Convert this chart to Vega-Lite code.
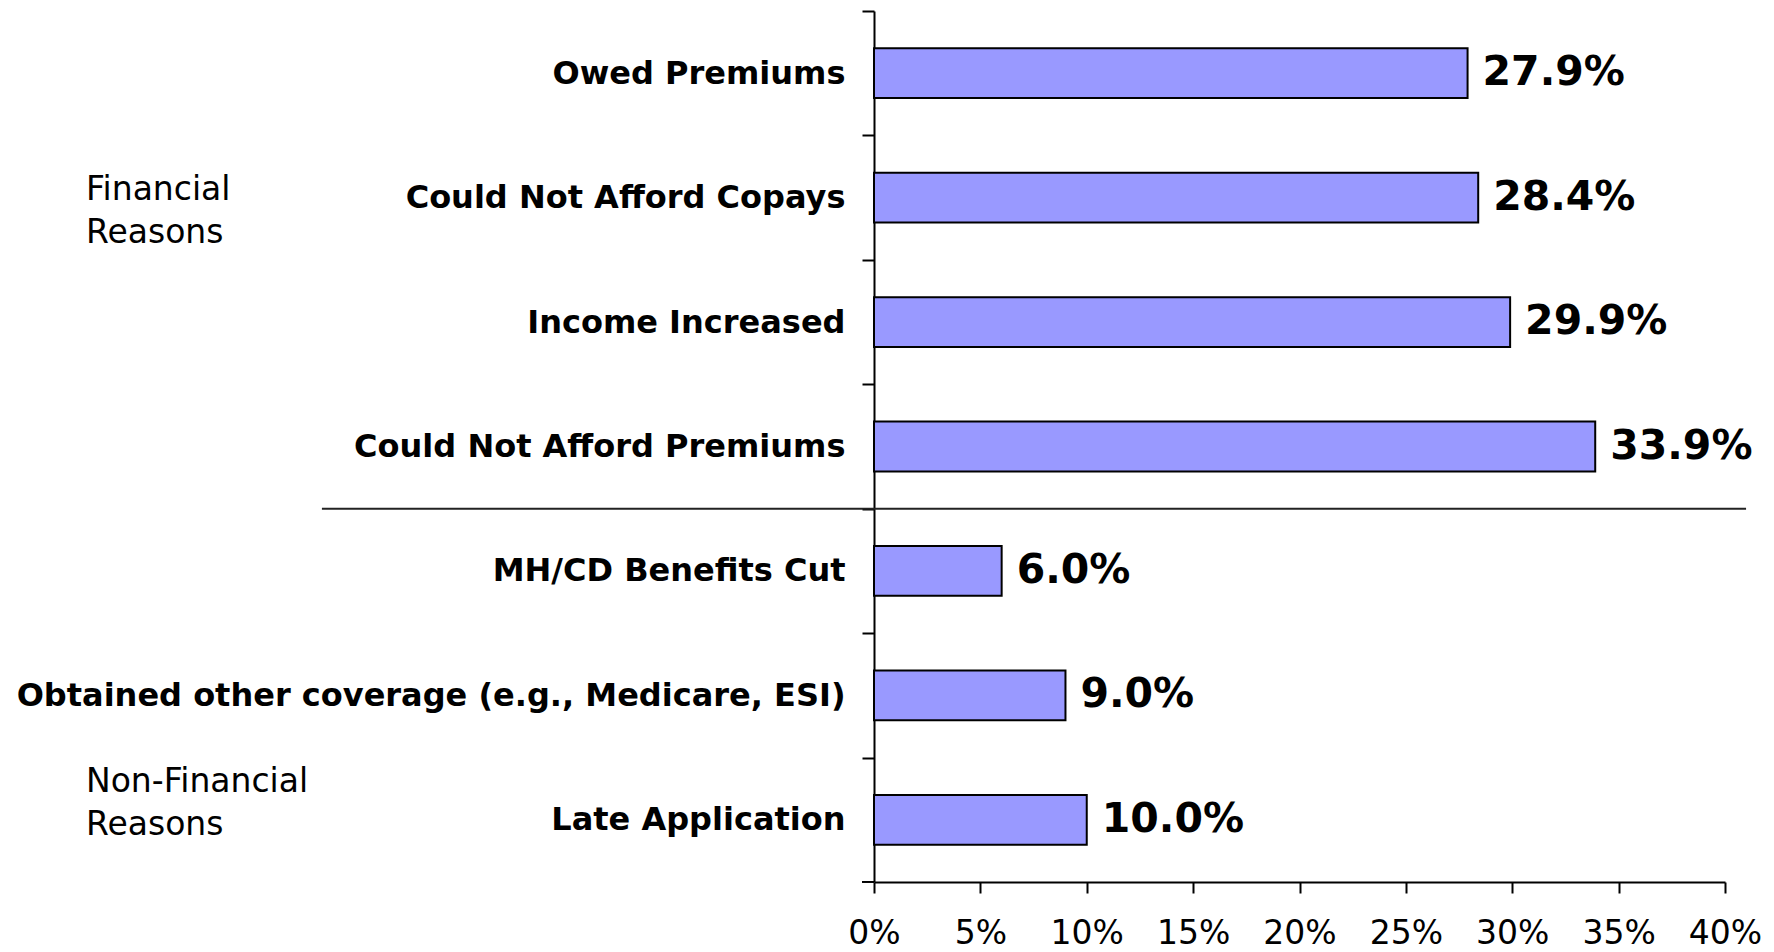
{
  "$schema": "https://vega.github.io/schema/vega-lite/v6.json",
  "autosize": "none",
  "width": 851,
  "height": 871,
  "padding": {"left": 874, "top": 11, "right": 49, "bottom": 70},
  "background": "white",
  "config": {"view": {"stroke": null}, "font": "DejaVu Sans"},
  "datasets": {
    "bars": [
      {"reason": "Owed Premiums", "share": 0.279},
      {"reason": "Could Not Afford Copays", "share": 0.284},
      {"reason": "Income Increased", "share": 0.299},
      {"reason": "Could Not Afford Premiums", "share": 0.339},
      {"reason": "MH/CD Benefits Cut", "share": 0.06},
      {"reason": "Obtained other coverage (e.g., Medicare, ESI)", "share": 0.09},
      {"reason": "Late Application", "share": 0.10}
    ]
  },
  "layer": [
    {
      "data": {"name": "bars"},
      "mark": {"type": "bar", "color": "#9999FF", "stroke": "black", "strokeWidth": 2},
      "encoding": {
        "y": {
          "field": "reason", "type": "nominal",
          "scale": {
            "domain": ["Owed Premiums", "Could Not Afford Copays", "Income Increased", "Could Not Afford Premiums", "MH/CD Benefits Cut", "Obtained other coverage (e.g., Medicare, ESI)", "Late Application"],
            "paddingInner": 0.6, "paddingOuter": 0.3
          },
          "axis": {
            "title": null, "domainColor": "black", "domainWidth": 2, "tickColor": "black", "tickWidth": 2, "tickSize": 12,
            "tickOffset": -62.2, "labelOffset": 62.2, "tickExtra": false, "labelFont": "DejaVu Sans", "labelFontWeight": "bold", "labelFontSize": 32,
            "labelColor": "black", "labelPadding": 17, "labelLimit": 0
          }
        },
        "x": {
          "field": "share", "type": "quantitative",
          "scale": {"domain": [0, 0.4], "nice": false},
          "axis": {
            "title": null, "format": "%", "values": [0, 0.05, 0.1, 0.15, 0.2, 0.25, 0.3, 0.35, 0.4],
            "grid": false, "domainColor": "black", "domainWidth": 2, "tickColor": "black", "tickWidth": 2, "tickSize": 11,
            "labelFont": "DejaVu Sans", "labelFontSize": 33, "labelColor": "black", "labelPadding": 24, "labelFlush": false
          }
        }
      }
    },
    {
      "data": {"name": "bars"},
      "mark": {"type": "text", "align": "left", "baseline": "middle", "dx": 15, "fontSize": 41, "fontWeight": "bold", "color": "black", "font": "DejaVu Sans"},
      "encoding": {
        "y": {"field": "reason", "type": "nominal"},
        "x": {"field": "share", "type": "quantitative"},
        "text": {"field": "share", "type": "quantitative", "format": ".1%"}
      }
    },
    {
      "data": {"values": [{"reason": "MH/CD Benefits Cut"}]},
      "mark": {"type": "rule", "color": "#222222", "strokeWidth": 2, "yOffset": -37.3, "clip": false},
      "encoding": {
        "y": {"field": "reason", "type": "nominal", "bandPosition": 0},
        "x": {"datum": -0.2595},
        "x2": {"datum": 0.4099}
      }
    },
    {
      "data": {"values": [{"reason": "Late Application"}]},
      "mark": {"type": "rule", "color": "black", "strokeWidth": 2, "yOffset": 37.3, "clip": false},
      "encoding": {
        "y": {"field": "reason", "type": "nominal", "bandPosition": 1},
        "x": {"datum": -0.00564},
        "x2": {"datum": 0}
      }
    },
    {
      "data": {"values": [{"reason": "Could Not Afford Copays", "label": ["Financial", "Reasons"]}]},
      "mark": {"type": "text", "align": "left", "baseline": "alphabetic", "dy": 2, "fontSize": 33, "lineHeight": 43, "color": "black", "font": "DejaVu Sans"},
      "encoding": {
        "y": {"field": "reason", "type": "nominal"},
        "x": {"datum": -0.3704},
        "text": {"field": "label"}
      }
    },
    {
      "data": {"values": [{"reason": "Late Application", "label": ["Non-Financial", "Reasons"]}]},
      "mark": {"type": "text", "align": "left", "baseline": "alphabetic", "dy": -28, "fontSize": 33, "lineHeight": 43, "color": "black", "font": "DejaVu Sans"},
      "encoding": {
        "y": {"field": "reason", "type": "nominal"},
        "x": {"datum": -0.3704},
        "text": {"field": "label"}
      }
    }
  ]
}
